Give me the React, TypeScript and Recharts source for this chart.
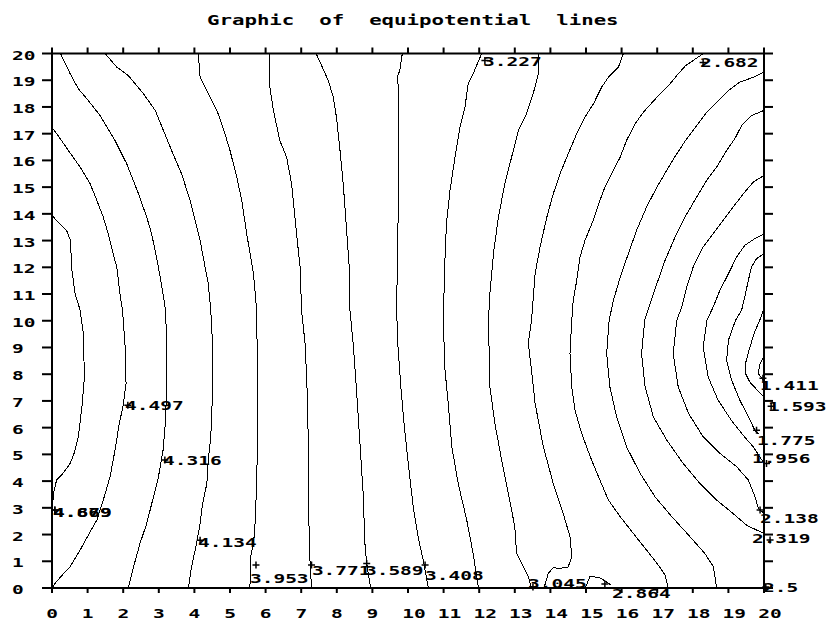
import React from 'react'
import { LineChart, Line, XAxis, YAxis, ReferenceDot } from 'recharts'

type Pt = [number, number]

const axisTicks = [0, 1, 2, 3, 4, 5, 6, 7, 8, 9, 10, 11, 12, 13, 14, 15, 16, 17, 18, 19, 20]

// contour lines, traced as (x, y) pairs
const c4679: Pt[] = [[0, 13.94], [0.17, 13.69], [0.41, 13.38], [0.52, 13.0], [0.55, 12.0], [0.65, 11.0], [0.79, 10.4], [0.88, 9.52], [0.91, 7.9], [0.85, 6.9], [0.74, 5.66], [0.62, 5.04], [0.51, 4.66], [0.27, 4.23], [0.13, 4.04], [0.06, 3.66], [0.03, 3.29], [0, 3.16]]
const c4497: Pt[] = [[0, 17.24], [0.27, 16.74], [0.46, 16.37], [0.79, 15.75], [1.07, 15.13], [1.26, 14.5], [1.44, 13.88], [1.58, 13.25], [1.72, 12.5], [1.82, 12.0], [1.91, 11.0], [1.98, 10.39], [2.05, 9.14], [2.08, 7.65], [2.0, 6.84], [1.89, 6.15], [1.77, 5.16], [1.63, 4.16], [1.44, 3.29], [1.26, 2.54], [1.02, 1.98], [0.79, 1.42], [0.51, 0.8], [0.3, 0.5], [0.1, 0.2], [0, 0]]
const c4316: Pt[] = [[0.24, 20], [0.51, 19.24], [0.74, 18.68], [1.02, 18.24], [1.35, 17.68], [1.77, 16.74], [2.1, 15.87], [2.43, 14.75], [2.66, 13.88], [2.8, 13.25], [2.99, 12.0], [3.12, 11.0], [3.19, 10.39], [3.22, 9.14], [3.22, 7.28], [3.17, 5.91], [3.12, 5.16], [2.99, 4.16], [2.85, 3.41], [2.66, 2.41], [2.47, 1.66], [2.29, 0.79], [2.14, 0]]
const c4134: Pt[] = [[1.49, 20], [1.82, 19.49], [2.14, 19.18], [2.57, 18.49], [2.9, 17.87], [3.36, 16.37], [3.64, 15.5], [3.88, 14.5], [4.16, 13.0], [4.39, 11.38], [4.46, 10.39], [4.51, 9.14], [4.51, 7.28], [4.46, 5.66], [4.39, 4.79], [4.35, 3.91], [4.23, 3.16], [4.16, 2.41], [4.06, 1.66], [3.92, 0.79], [3.83, 0]]
const c3953: Pt[] = [[4.11, 20], [4.16, 19.12], [4.44, 18.37], [4.67, 17.74], [4.86, 16.99], [5.0, 16.37], [5.19, 15.37], [5.33, 14.5], [5.47, 13.25], [5.66, 11.75], [5.75, 10.39], [5.77, 7.9], [5.77, 5.41], [5.75, 3.91], [5.7, 2.29], [5.66, 1.66], [5.58, 1.17], [5.56, 0]]
const c3771: Pt[] = [[6.1, 20], [6.12, 18.74], [6.22, 17.87], [6.4, 16.74], [6.59, 16.12], [6.73, 15.13], [6.87, 13.25], [6.97, 12.0], [7.01, 10.39], [7.11, 9.14], [7.17, 7.28], [7.2, 5.41], [7.2, 3.54], [7.23, 1.66], [7.25, 0.92], [7.29, 0]]
const c3589: Pt[] = [[7.42, 20], [7.76, 18.99], [7.9, 18.37], [7.99, 17.62], [8.09, 16.37], [8.18, 15.13], [8.27, 13.5], [8.35, 12.0], [8.37, 10.39], [8.46, 9.14], [8.56, 7.28], [8.65, 5.41], [8.74, 3.54], [8.79, 1.66], [8.84, 0.92], [8.95, 0]]
const c3408: Pt[] = [[9.84, 20], [9.77, 19.37], [9.7, 19.12], [9.73, 18.74], [9.73, 14.5], [9.68, 10.39], [9.72, 9.0], [9.8, 7.5], [9.9, 6.0], [10.02, 4.5], [10.15, 3.0], [10.3, 1.8], [10.45, 0.9], [10.57, 0]]
const c3227: Pt[] = [[12.07, 20], [11.83, 19.24], [11.69, 18.86], [11.6, 17.99], [11.46, 17.24], [11.32, 16.12], [11.18, 14.88], [11.08, 13.63], [11.04, 12.38], [10.99, 10.02], [11.04, 8.15], [11.13, 6.91], [11.23, 5.29], [11.41, 3.91], [11.65, 2.54], [11.83, 1.29], [11.98, 0]]
const c3045: Pt[] = [[13.66, 20], [13.66, 19.24], [13.57, 18.74], [13.33, 17.74], [13.1, 17.12], [12.91, 16.12], [12.72, 15.13], [12.54, 13.88], [12.4, 12.51], [12.3, 11.01], [12.26, 10.02], [12.3, 7.53], [12.44, 6.16], [12.63, 4.79], [12.82, 3.54], [13.0, 2.29], [13.05, 1.29], [13.19, 0.92], [13.38, 0.42], [13.47, 0]]
const c2864: Pt[] = [[16.05, 20], [15.91, 19.49], [15.63, 19.11], [15.44, 18.74], [15.21, 18.12], [14.97, 17.62], [14.74, 17.0], [14.5, 16.25], [14.27, 15.5], [14.08, 14.75], [13.9, 13.88], [13.71, 12.76], [13.57, 11.76], [13.47, 10.02], [13.38, 9.15], [13.47, 8.15], [13.57, 6.91], [13.8, 5.29], [14.08, 3.91], [14.36, 2.79], [14.55, 1.92], [14.6, 1.17], [14.5, 0.79], [14.27, 0.73], [14.08, 0.76], [13.94, 0.54], [13.82, 0]]
const c2864b: Pt[] = [[14.98, 0], [15.12, 0.45], [15.41, 0.37], [15.72, 0.1]]
const c2682: Pt[] = [[18.3, 20], [17.8, 19.55], [17.59, 19.24], [17.32, 18.8], [16.99, 18.36], [16.61, 17.8], [16.38, 17.37], [16.14, 16.75], [15.96, 16.12], [15.72, 15.5], [15.53, 15.0], [15.39, 14.5], [15.2, 13.75], [14.97, 13.0], [14.83, 12.38], [14.74, 11.51], [14.64, 10.76], [14.6, 10.02], [14.55, 8.77], [14.6, 7.53], [14.69, 6.66], [14.88, 5.78], [15.12, 4.91], [15.39, 4.04], [15.63, 3.29], [15.96, 2.67], [16.33, 2.04], [16.7, 1.42], [17.03, 0.86], [17.22, 0.49], [17.31, 0]]
const c2500: Pt[] = [[20, 19.3], [19.7, 19.11], [19.32, 18.93], [19.0, 18.61], [18.67, 18.18], [18.39, 17.8], [18.11, 17.3], [17.83, 16.81], [17.55, 16.25], [17.27, 15.63], [16.99, 15.0], [16.7, 14.25], [16.42, 13.38], [16.19, 12.51], [15.96, 11.63], [15.77, 10.76], [15.65, 10.02], [15.58, 8.77], [15.67, 7.53], [15.86, 6.41], [16.14, 5.28], [16.52, 4.29], [16.94, 3.41], [17.41, 2.67], [17.88, 1.98], [18.34, 1.29], [18.58, 0.79], [18.67, 0]]
const c2319: Pt[] = [[20, 17.87], [19.65, 17.68], [19.37, 17.3], [19.18, 16.81], [18.95, 16.37], [18.67, 15.75], [18.39, 15.25], [18.11, 14.63], [17.78, 13.88], [17.5, 13.13], [17.22, 12.26], [16.99, 11.38], [16.8, 10.64], [16.65, 10.02], [16.56, 8.77], [16.66, 7.53], [16.89, 6.41], [17.27, 5.53], [17.73, 4.66], [18.2, 3.91], [18.67, 3.29], [19.13, 2.79], [19.51, 2.35], [19.79, 2.17], [20, 2.04]]
const c2138: Pt[] = [[20, 15.44], [19.7, 15.19], [19.42, 14.75], [19.13, 14.25], [18.85, 13.75], [18.57, 13.25], [18.29, 12.76], [18.01, 12.01], [17.83, 11.26], [17.69, 10.51], [17.55, 10.02], [17.45, 8.77], [17.59, 7.53], [17.88, 6.53], [18.29, 5.66], [18.76, 5.04], [19.23, 4.54], [19.56, 4.04], [19.75, 3.41], [19.84, 2.98], [20, 2.79]]
const c1956: Pt[] = [[20, 13.25], [19.74, 13.07], [19.46, 12.82], [19.23, 12.38], [19.0, 11.76], [18.76, 11.13], [18.57, 10.51], [18.4, 10.02], [18.29, 9.02], [18.43, 7.9], [18.71, 7.03], [19.08, 6.28], [19.41, 5.72], [19.7, 5.28], [19.88, 4.91], [20, 4.66]]
const c1775: Pt[] = [[20, 12.51], [19.79, 12.32], [19.65, 12.01], [19.56, 11.51], [19.46, 10.89], [19.37, 10.39], [19.2, 10.02], [19.0, 9.27], [18.95, 8.52], [19.09, 7.78], [19.32, 7.03], [19.56, 6.41], [19.74, 5.91], [19.85, 5.75]]
const c1593: Pt[] = [[20, 10.45], [19.88, 10.02], [19.72, 9.52], [19.58, 8.9], [19.48, 8.4], [19.47, 8.05], [19.6, 7.71], [19.8, 7.42], [20, 7.15]]
const c1411: Pt[] = [[20, 8.65], [19.89, 8.4], [19.84, 8.03], [19.94, 7.84], [20, 7.72]]

const contours = [c4679, c4497, c4316, c4134, c3953, c3771, c3589, c3408, c3227, c3045, c2864, c2864b, c2682, c2500, c2319, c2138, c1956, c1775, c1593, c1411]

// level labels: text start / baseline, and their "+" marks
const labelText = ['3.227', '2.682', '4.497', '4.316', '4.679', '4.869', '4.134', '3.953', '3.771', '3.589', '3.408', '3.045', '2.864', '2.5', '2.319', '2.138', '1.956', '1.775', '1.593', '1.411']
const labelX = [12.11, 18.2, 2.05, 3.12, 0.03, 0.03, 4.1, 5.56, 7.3, 8.79, 10.48, 13.37, 15.73, 19.97, 19.66, 19.89, 19.66, 19.8, 20.11, 19.89]
const labelY = [19.55, 19.51, 6.65, 4.6, 2.65, 2.65, 1.53, 0.19, 0.49, 0.49, 0.3, 0.0, -0.37, -0.15, 1.68, 2.43, 4.67, 5.35, 6.62, 7.4]
const plusX = [12.16, 18.29, 2.13, 3.17, 0.08, 0.08, 4.16, 5.73, 7.29, 8.84, 10.48, 13.51, 15.53, 20.05, 20.17, 19.89, 20.07, 19.79, 20.2, 19.97]
const plusY = [19.74, 19.66, 6.84, 4.79, 2.92, 2.92, 1.79, 0.86, 0.86, 0.92, 0.86, 0.04, 0.15, 0.04, 1.8, 2.92, 4.66, 5.9, 6.8, 7.85]

const FONT = '"DejaVu Sans Mono", "Liberation Mono", monospace'

function Mono({ x, y, text, size = 13, sx = 1.5 }: { x: number; y: number; text: string; size?: number; sx?: number }) {
  return (
    <text
      transform={`translate(${x},${y}) scale(${sx},1)`}
      fontFamily={FONT}
      fontWeight={700}
      fontSize={size}
      fill="#000"
      style={{ whiteSpace: 'pre' }}
    >
      {text}
    </text>
  )
}

const BottomTick = (p: any) => <Mono x={p.x - 5.8} y={p.y + 23} text={String(p.payload.value)} />
const LeftTick = (p: any) => <Mono x={p.x - 28} y={p.y + 6} text={String(p.payload.value)} />
const NoTick = () => <g />

const axisLine = { stroke: '#000', strokeWidth: 2 }

export default function App() {
  return (
    <div style={{ position: 'absolute', left: 0, top: 0, width: 831, height: 620, background: '#fff' }}>
      <svg width={831} height={40} style={{ position: 'absolute', left: 0, top: 0 }}>
        <Mono x={207} y={25} text="Graphic  of  equipotential  lines" size={14.5} sx={1.43} />
      </svg>
      <div style={{ position: 'absolute', left: 0, top: 0 }}>
        <LineChart width={831} height={620} margin={{ top: 0, right: 0, bottom: 0, left: 0 }}>
          <XAxis xAxisId="b" type="number" dataKey="x" domain={[0, 20]} ticks={axisTicks} allowDataOverflow
            height={32} axisLine={axisLine} tickLine={axisLine} tickSize={5} tick={BottomTick} interval={0} />
          <XAxis xAxisId="t" orientation="top" type="number" dataKey="x" domain={[0, 20]} ticks={axisTicks} allowDataOverflow
            height={53.5} axisLine={axisLine} tickLine={axisLine} tickSize={6} tick={NoTick} interval={0} />
          <YAxis yAxisId="l" type="number" dataKey="y" domain={[0, 20]} ticks={axisTicks} allowDataOverflow
            width={52} axisLine={axisLine} tickLine={axisLine} tickSize={10} tick={LeftTick} interval={0} />
          <YAxis yAxisId="r" orientation="right" type="number" dataKey="y" domain={[0, 20]} ticks={axisTicks} allowDataOverflow
            width={67} axisLine={axisLine} tickLine={axisLine} tickSize={9} tick={NoTick} interval={0} />
          {contours.map((c, i) => (
            <Line
              key={i}
              xAxisId="b"
              yAxisId="l"
              data={c.map(([x, y]) => ({ x, y }))}
              dataKey="y"
              type="linear"
              stroke="#000"
              strokeWidth={1}
              shapeRendering="crispEdges"
              dot={false}
              activeDot={false}
              isAnimationActive={false}
            />
          ))}
          {labelText.map((t, i) => (
            <ReferenceDot
              key={'p' + i}
              xAxisId="b"
              yAxisId="l"
              x={plusX[i]}
              y={plusY[i]}
              ifOverflow="visible"
              shape={(p: any) => (
                <path d={`M${p.cx - 3.5},${p.cy}H${p.cx + 3.5}M${p.cx},${p.cy - 3.5}V${p.cy + 3.5}`} stroke="#000" strokeWidth={1.5} />
              )}
            />
          ))}
          {labelText.map((t, i) => (
            <ReferenceDot
              key={'l' + i}
              xAxisId="b"
              yAxisId="l"
              x={labelX[i]}
              y={labelY[i]}
              ifOverflow="visible"
              shape={(p: any) => <Mono x={p.cx} y={p.cy} text={t} />}
            />
          ))}
        </LineChart>
      </div>
    </div>
  )
}
